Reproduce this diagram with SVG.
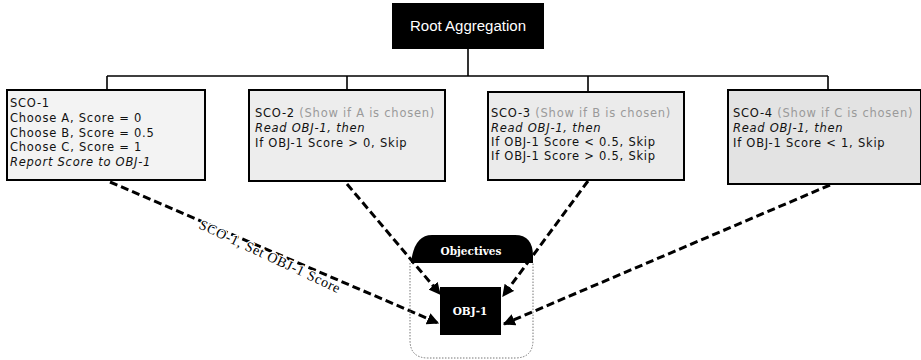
<svg xmlns="http://www.w3.org/2000/svg" width="921" height="360" viewBox="0 0 921 360">
<style>
.sco{stroke:#000;stroke-width:2;}
.t{font-family:"DejaVu Sans",Verdana,sans-serif;font-size:11.5px;letter-spacing:0.75px;fill:#111;}
.g{fill:#9a9a9a;}
.i{font-style:italic;}
.tree{fill:none;stroke:#000;stroke-width:1.6;}
.dash{fill:none;stroke:#000;stroke-width:3;stroke-dasharray:8,4;marker-end:url(#ah);}
.wt{font-family:"DejaVu Serif",Georgia,serif;font-weight:bold;font-size:10.5px;fill:#fff;text-anchor:middle;}
</style>
<defs>
<marker id="ah" viewBox="0 0 10 10" refX="9" refY="5" markerWidth="4" markerHeight="4" orient="auto" markerUnits="strokeWidth">
<path d="M0,0 L10,5 L0,10 Z" fill="#000"/>
</marker>
</defs>
<rect width="921" height="360" fill="#fff"/>

<g id="root">
<rect x="392" y="3" width="152" height="46" fill="#000"/>
<text x="468" y="31" font-family="Liberation Sans,Arial,sans-serif" font-size="14" fill="#fff" text-anchor="middle" textLength="116" lengthAdjust="spacingAndGlyphs">Root Aggregation</text>
</g>

<g id="connectors">
<path class="tree" d="M468,49 V76 M107,76 H828 M107,76 V90 M347,76 V90 M588,76 V92 M828,76 V90"/>
<path class="dash" d="M110,182 L438,323"/>
<path class="dash" d="M347,184 L440,294"/>
<path class="dash" d="M588,181 L503,296"/>
<path class="dash" d="M830,185 L504,324"/>
<text transform="translate(198,228) rotate(25)" font-family="Liberation Serif,Times New Roman,serif" font-size="14" fill="#000" stroke="#fff" stroke-width="2.5" paint-order="stroke" letter-spacing="0.7">SCO-1, Set OBJ-1 Score</text>
</g>

<g id="sco1">
<rect class="sco" x="7" y="90" width="198" height="90" fill="#f3f3f3"/>
<text class="t" x="10" y="107">SCO-1</text>
<text class="t" x="10" y="122">Choose A, Score = 0</text>
<text class="t" x="10" y="137">Choose B, Score = 0.5</text>
<text class="t" x="10" y="151">Choose C, Score = 1</text>
<text class="t i" x="10" y="166">Report Score to OBJ-1</text>
</g>

<g id="sco2">
<rect class="sco" x="249" y="90" width="196" height="91" fill="#ededed"/>
<text class="t" x="255" y="117">SCO-2 <tspan class="g">(Show if A is chosen)</tspan></text>
<text class="t i" x="255" y="132">Read OBJ-1, then</text>
<text class="t" x="255" y="147">If OBJ-1 Score &gt; 0, Skip</text>
</g>

<g id="sco3">
<rect class="sco" x="488" y="92" width="196" height="88" fill="#ebebeb"/>
<text class="t" x="491" y="117">SCO-3 <tspan class="g">(Show if B is chosen)</tspan></text>
<text class="t i" x="491" y="132">Read OBJ-1, then</text>
<text class="t" x="491" y="146">If OBJ-1 Score &lt; 0.5, Skip</text>
<text class="t" x="491" y="160">If OBJ-1 Score &gt; 0.5, Skip</text>
</g>

<g id="sco4">
<rect class="sco" x="728" y="90" width="193" height="94" fill="#e3e3e3"/>
<text class="t" x="733" y="117">SCO-4 <tspan class="g">(Show if C is chosen)</tspan></text>
<text class="t i" x="733" y="132">Read OBJ-1, then</text>
<text class="t" x="733" y="147">If OBJ-1 Score &lt; 1, Skip</text>
</g>

<g id="objectives">
<path d="M410,263 V340 Q410,358 428,358 H515 Q533,358 533,340 V263" fill="none" stroke="#777" stroke-width="1" stroke-dasharray="1.5,1.5"/>
<path d="M411,263 Q414,235 432,235 H515 Q533,235 533,256 V263 Z" fill="#000"/>
<text class="wt" x="471" y="255">Objectives</text>
</g>

<g id="obj1">
<rect x="440" y="287" width="61" height="48" fill="#000"/>
<text class="wt" x="470" y="315">OBJ-1</text>
</g>
</svg>
